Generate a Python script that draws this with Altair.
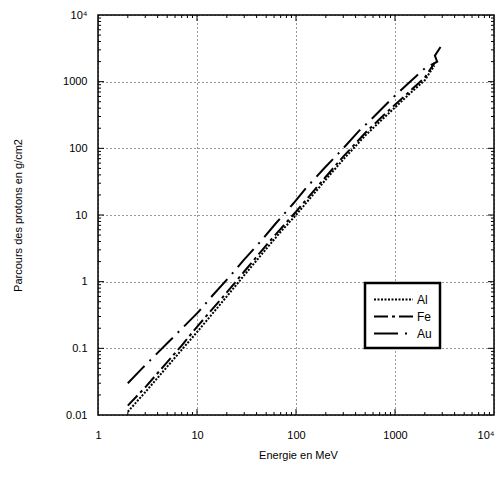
import altair as alt
import pandas as pd

# Energies (MeV) and ranges (g/cm2)
al_E = [2.0, 3.0, 5.0, 7.0, 10.0, 20.0, 30.0, 50.0, 70.0, 100.0, 200.0, 300.0, 500.0, 700.0, 1000.0, 1500.0, 2000.0, 2500.0]
al_R = [0.0112, 0.022, 0.053, 0.095, 0.175, 0.60, 1.25, 3.1, 5.6, 10.0, 34.0, 68.0, 155.0, 250.0, 410.0, 720.0, 1050.0, 1750.0]

fe_E = [2.0, 3.0, 5.0, 7.0, 10.0, 20.0, 30.0, 50.0, 70.0, 100.0, 200.0, 300.0, 500.0, 700.0, 1000.0, 1500.0, 2000.0, 2500.0]
fe_R = [0.0138, 0.026, 0.062, 0.11, 0.21, 0.69, 1.42, 3.5, 6.2, 11.2, 37.5, 75.0, 170.0, 275.0, 450.0, 780.0, 1150.0, 1900.0]

au_E = [2.0, 2.79, 5.0, 10.4, 14.2, 21.7, 29.6, 44.6, 61.7, 94.4, 128.0, 197.0, 289.0, 426.0, 604.0, 960.0, 1307.0, 2004.0, 2667.0, 2528.0, 3064.0]
au_R = [0.030, 0.050, 0.119, 0.355, 0.61, 1.22, 2.11, 4.12, 7.33, 15.0, 26.0, 52.0, 94.0, 178.0, 292.0, 582.0, 891.0, 1585.0, 1995.0, 2455.0, 3800.0]

series = ["Al", "Fe", "Au"]
dashes = [[2, 1.5], [14, 4, 3, 4], [24, 7, 2, 7]]

x_major = [1, 10, 100, 1000, 10000]
y_major = [0.01, 0.1, 1, 10, 100, 1000, 10000]
x_minor = [m * 10 ** k for k in range(4) for m in range(2, 10)]
y_minor = [m * 10.0 ** k for k in range(-2, 4) for m in range(2, 10)]

rows = []
for name, E, R in [("Al", al_E, al_R), ("Fe", fe_E, fe_R), ("Au", au_E, au_R)]:
    for i, (e, r) in enumerate(zip(E, R)):
        rows.append({"serie": name, "E": e, "R": r, "i": i})
df = pd.DataFrame(rows)

W, H = 396, 400
FONT = "Liberation Sans"
xs = alt.Scale(type="log", domain=[1, 10000], nice=False)
ys = alt.Scale(type="log", domain=[0.01, 10000], nice=False)

lab = "datum.value >= 10000 ? '10\u2074' : format(datum.value, '')"

x_axis = alt.Axis(values=x_major, title="Energie en MeV", labelExpr=lab,
                  grid=True, ticks=False, tickSize=0, domain=False,
                  labelAlign={"condition": {"test": "datum.value >= 10000", "value": "right"}, "value": "center"},
                  labelPadding=14, titleX=200, titleY=40, titleBaseline="middle")
y_axis = alt.Axis(values=y_major, title="Parcours des protons en g/cm2",
                  labelExpr=lab, grid=True, ticks=False, tickSize=0,
                  domain=False, labelPadding=11, titleX=-80, titleY=200,
                  titleBaseline="middle")

lines = alt.Chart(df).mark_line(strokeWidth=2, color="black", clip=True).encode(
    x=alt.X("E:Q", scale=xs, axis=x_axis),
    y=alt.Y("R:Q", scale=ys, axis=y_axis),
    strokeDash=alt.StrokeDash("serie:N", scale=alt.Scale(domain=series, range=dashes),
                              legend=alt.Legend(title=None, orient="none", legendX=267, legendY=268,
                                                strokeColor="black", fillColor="white",
                                                padding=8, symbolType="M-2.6,0L2.6,0",
                                                symbolStrokeColor="black", symbolOffset=12,
                                                symbolStrokeWidth=2, symbolSize=225, labelFont=FONT,
                                                labelFontSize=12, labelOffset=15, rowPadding=2,
                                                labelColor="black")),
    order="i:Q",
)

xt_minor = pd.DataFrame({"v": x_minor})
xt_major = pd.DataFrame({"v": x_major[1:-1]})
yt_minor = pd.DataFrame({"v": y_minor})
yt_major = pd.DataFrame({"v": y_major[1:-1]})


def xticks(d, ln):
    b = alt.Chart(d).mark_rule(color="black", strokeWidth=1).encode(
        x=alt.X("v:Q", scale=xs, axis=x_axis), y=alt.value(H), y2=alt.value(H - ln))
    t = alt.Chart(d).mark_rule(color="black", strokeWidth=1).encode(
        x=alt.X("v:Q", scale=xs, axis=x_axis), y=alt.value(0), y2=alt.value(ln))
    return [b, t]


def yticks(d, ln):
    l = alt.Chart(d).mark_rule(color="black", strokeWidth=1).encode(
        y=alt.Y("v:Q", scale=ys, axis=y_axis), x=alt.value(0), x2=alt.value(ln))
    r = alt.Chart(d).mark_rule(color="black", strokeWidth=1).encode(
        y=alt.Y("v:Q", scale=ys, axis=y_axis), x=alt.value(W), x2=alt.value(W - ln))
    return [l, r]


layers = [lines] + xticks(xt_minor, 3) + xticks(xt_major, 6) + yticks(yt_minor, 3) + yticks(yt_major, 6)

chart = alt.layer(*layers).properties(
    width=W, height=H,
    padding={"left": 90, "top": 7, "right": 1, "bottom": 63},
    autosize=alt.AutoSizeParams(type="none"),
).configure_view(
    stroke="black", strokeWidth=1.5
).configure_axis(
    labelFont=FONT, labelFontSize=11, labelColor="black",
    titleFont=FONT, titleFontSize=11, titleFontWeight="normal", titleColor="black",
    gridColor="black", gridDash=[1, 3], gridWidth=1, gridOpacity=0.8,
).configure_legend(
    strokeWidth=2.5
)

chart.save("out.html", embed_options={"renderer": "svg", "actions": False})
